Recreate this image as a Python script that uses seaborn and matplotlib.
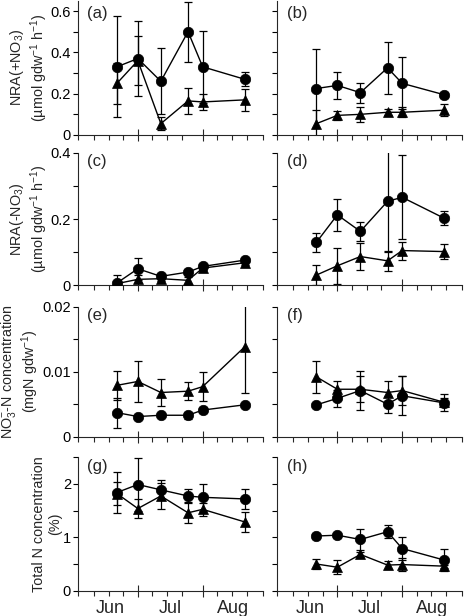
import numpy as np
import pandas as pd
import matplotlib
matplotlib.use('Agg')
import matplotlib.pyplot as plt
import seaborn as sns

# ---------------- data ----------------
days = [20, 30, 41, 54, 61, 81]          # sampling day (days since 1 June)
month_names = ['Jun', 'Jul', 'Aug']
month_pos = [17, 45.5, 75.5]
month_starts = [30, 61]
week_ticks = [9, 16, 23, 37, 44, 51, 68, 75, 82]

a_circ = [0.33, 0.37, 0.26, 0.50, 0.33, 0.27]
a_circ_sd = [0.245, 0.18, 0.16, 0.145, 0.175, 0.035]
a_tri = [0.25, 0.36, 0.055, 0.165, 0.16, 0.17]
a_tri_sd = [0.10, 0.12, 0.03, 0.062, 0.04, 0.055]

b_circ = [0.225, 0.24, 0.205, 0.325, 0.25, 0.195]
b_circ_sd = [0.19, 0.064, 0.049, 0.126, 0.126, 0.015]
b_tri = [0.055, 0.095, 0.10, 0.11, 0.11, 0.12]
b_tri_sd = [0.065, 0.02, 0.037, 0.015, 0.025, 0.03]

c_circ = [0.007, 0.05, 0.027, 0.04, 0.057, 0.076]
c_circ_sd = [0.025, 0.033, 0.006, 0.008, 0.008, 0.007]
c_tri = [0.005, 0.018, 0.02, 0.015, 0.052, 0.068]
c_tri_sd = [0.005, 0.012, 0.008, 0.01, 0.006, 0.006]

d_circ = [0.13, 0.213, 0.163, 0.254, 0.266, 0.203]
d_circ_sd = [0.028, 0.048, 0.028, 0.153, 0.127, 0.022]
d_tri = [0.031, 0.059, 0.087, 0.074, 0.105, 0.102]
d_tri_sd = [0.031, 0.055, 0.04, 0.03, 0.027, 0.022]

e_circ = [0.0037, 0.0031, 0.0033, 0.0033, 0.0041, 0.0049]
e_circ_sd = [0.0023, 0.0002, 0.0002, 0.0005, 0.0004, 0.0002]
e_tri = [0.0079, 0.0085, 0.0068, 0.0070, 0.0077, 0.0138]
e_tri_sd = [0.0022, 0.0031, 0.0021, 0.0014, 0.0022, 0.007]

f_circ = [0.0049, 0.0059, 0.0071, 0.0050, 0.0063, 0.0052]
f_circ_sd = [0.0002, 0.0013, 0.003, 0.0013, 0.003, 0.0013]
f_tri = [0.0092, 0.0073, 0.0073, 0.0068, 0.0071, 0.0053]
f_tri_sd = [0.0024, 0.0012, 0.002, 0.0017, 0.0022, 0.0007]

g_circ = [1.84, 1.99, 1.89, 1.775, 1.75, 1.72]
g_circ_sd = [0.39, 0.49, 0.19, 0.14, 0.25, 0.18]
g_tri = [1.82, 1.54, 1.775, 1.46, 1.525, 1.29]
g_tri_sd = [0.22, 0.17, 0.25, 0.2, 0.12, 0.19]

h_circ = [1.025, 1.04, 0.96, 1.105, 0.79, 0.575]
h_circ_sd = [0.05, 0.05, 0.2, 0.12, 0.21, 0.2]
h_tri = [0.50, 0.44, 0.68, 0.48, 0.49, 0.46]
h_tri_sd = [0.10, 0.13, 0.05, 0.08, 0.12, 0.03]

ylabels = ['NRA(+NO$_3$)\n(µmol gdw$^{-1}$ h$^{-1}$)',
           'NRA(-NO$_3$)\n(µmol gdw$^{-1}$ h$^{-1}$)',
           'NO$_3^{-}$-N concentration\n(mgN gdw$^{-1}$)',
           'Total N concentration\n(%)']

row_ylim = [(0, 0.65), (0, 0.4), (0, 0.02), (0, 2.5)]
row_major = [[0, 0.2, 0.4, 0.6], [0, 0.2, 0.4], [0, 0.01, 0.02], [0, 1, 2]]
row_major_lbl = [['0', '0.2', '0.4', '0.6'], ['0', '0.2', '0.4'],
                 ['0', '0.01', '0.02'], ['0', '1', '2']]
row_minor = [[0.1, 0.3, 0.5], [0.1, 0.3], [0.005, 0.015], [0.5, 1.5, 2.5]]

panels = [
    [('(a)', a_circ, a_circ_sd, a_tri, a_tri_sd), ('(b)', b_circ, b_circ_sd, b_tri, b_tri_sd)],
    [('(c)', c_circ, c_circ_sd, c_tri, c_tri_sd), ('(d)', d_circ, d_circ_sd, d_tri, d_tri_sd)],
    [('(e)', e_circ, e_circ_sd, e_tri, e_tri_sd), ('(f)', f_circ, f_circ_sd, f_tri, f_tri_sd)],
    [('(g)', g_circ, g_circ_sd, g_tri, g_tri_sd), ('(h)', h_circ, h_circ_sd, h_tri, h_tri_sd)],
]

# ---------------- style ----------------
sns.set_style('ticks')
plt.rcParams['font.family'] = ['Liberation Sans', 'DejaVu Sans']
plt.rcParams['mathtext.fontset'] = 'custom'
plt.rcParams['mathtext.rm'] = 'Liberation Sans'
plt.rcParams['mathtext.it'] = 'Liberation Sans:italic'
plt.rcParams['mathtext.bf'] = 'Liberation Sans:bold'
plt.rcParams['axes.linewidth'] = 0.8

W, H = 465, 616
fig = plt.figure(figsize=(W / 100, H / 100), dpi=100)

col_x = [77.5, 277]
col_w = 185
row_px = [(0.7, 135), (153, 285.3), (306.7, 436.7), (457.3, 590.7)]
lbl_y = [0.905, 0.935, 0.935, 0.93]
XLIM = (1.15, 89.6)

for r in range(4):
    for c in range(2):
        name, circ, circ_sd, tri, tri_sd = panels[r][c]
        top, bot = row_px[r]
        ax = fig.add_axes([col_x[c] / W, (H - bot) / H, col_w / W, (bot - top) / H])
        df = pd.DataFrame({
            'day': days + days,
            'value': circ + tri,
            'sd': circ_sd + tri_sd,
            'kind': ['circle'] * len(days) + ['triangle'] * len(days),
        })
        for kind in ['circle', 'triangle']:
            sub = df[df['kind'] == kind]
            ax.errorbar(sub['day'], sub['value'], yerr=sub['sd'], fmt='none',
                        ecolor='black', elinewidth=0.9, capsize=3.2, capthick=0.9,
                        zorder=2)
        sns.lineplot(data=df, x='day', y='value', style='kind',
                     markers={'circle': 'o', 'triangle': '^'},
                     dashes={'circle': '', 'triangle': ''},
                     color='black', markersize=7.5, markeredgecolor='black',
                     markeredgewidth=0.5, linewidth=1.0, legend=False,
                     errorbar=None, ax=ax, zorder=3)
        ax.set_xlim(*XLIM)
        ax.set_ylim(*row_ylim[r])
        sns.despine(ax=ax)
        ax.spines['left'].set_linewidth(0.8)
        ax.spines['bottom'].set_linewidth(0.8)

        # y ticks
        ax.set_yticks(row_major[r])
        ax.set_yticks(row_minor[r], minor=True)
        if c == 0:
            ax.set_yticklabels(row_major_lbl[r], fontsize=10.5)
            ax.set_ylabel(ylabels[r], fontsize=10.4, labelpad=0.8, linespacing=1.12)
        else:
            ax.set_yticklabels([])
            ax.set_ylabel('')
        ax.tick_params(axis='y', which='both', direction='out', length=3.6,
                       width=0.8, pad=1.0, colors='black')

        # x ticks: month labels (no mark), weekly minor marks, long month-start marks
        ax.set_xticks(month_pos)
        if r == 3:
            ax.set_xticklabels(month_names, fontsize=13)
        else:
            ax.set_xticklabels([])
        ax.set_xticks(week_ticks + [XLIM[0], XLIM[1]], minor=True)
        ax.tick_params(axis='x', which='major', length=0, pad=7)
        ax.tick_params(axis='x', which='minor', direction='out', length=3.5, width=0.8)
        sec = ax.secondary_xaxis('bottom')
        sec.set_xticks(month_starts)
        sec.set_xticklabels([])
        sec.tick_params(axis='x', direction='inout', length=8, width=0.8)
        sec.spines['bottom'].set_visible(False)
        ax.set_xlabel('')

        ax.text(0.052, lbl_y[r], name, transform=ax.transAxes, fontsize=12,
                ha='left', va='center')

fig.savefig('out.png', dpi=100)
